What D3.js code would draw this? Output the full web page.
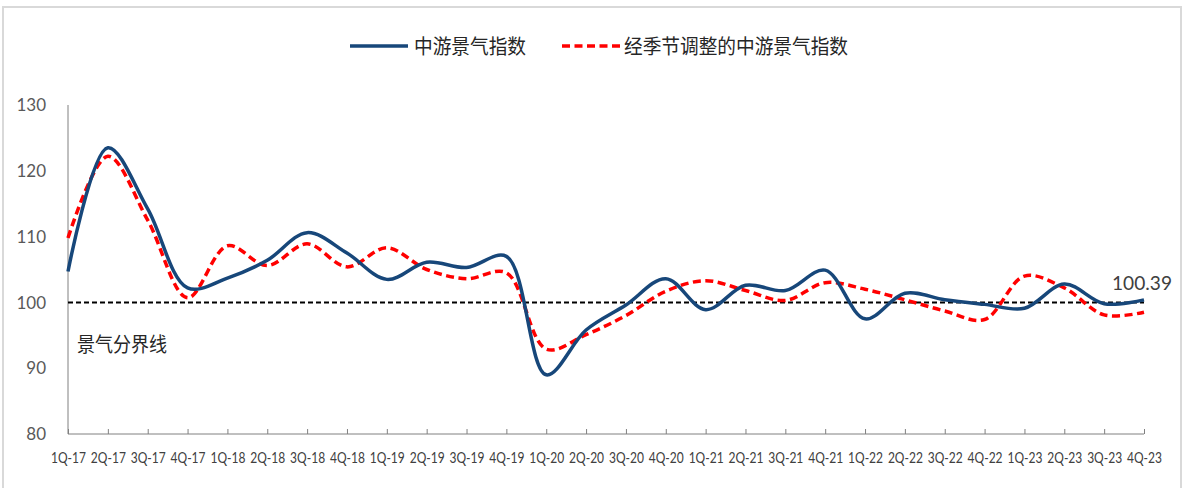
<!DOCTYPE html>
<html>
<head>
<meta charset="utf-8">
<script src="https://cdn.jsdelivr.net/npm/d3@7/dist/d3.min.js"></script>
<style>
  html, body { margin: 0; padding: 0; background: #fff; }
  svg { display: block; }
  .num { font-family: Lato, "Open Sans", sans-serif; }
  .cjk { font-family: "Noto Sans CJK SC", sans-serif; }
</style>
</head>
<body>
<svg id="chart" width="1184" height="488"></svg>
<script>
// Quarterly categories
const quarters = [
  "1Q-17","2Q-17","3Q-17","4Q-17",
  "1Q-18","2Q-18","3Q-18","4Q-18",
  "1Q-19","2Q-19","3Q-19","4Q-19",
  "1Q-20","2Q-20","3Q-20","4Q-20",
  "1Q-21","2Q-21","3Q-21","4Q-21",
  "1Q-22","2Q-22","3Q-22","4Q-22",
  "1Q-23","2Q-23","3Q-23","4Q-23"
];

// 中游景气指数
const midstreamIndex = [
  104.7, 123.5, 114.2, 102.2,
  103.7, 106.4, 110.6, 107.5,
  103.5, 106.1, 105.3, 107.0,
  89.0, 95.8, 99.6, 103.6,
  98.9, 102.6, 101.8, 104.9,
  97.5, 101.4, 100.4, 99.7,
  99.1, 102.8, 99.8, 100.39
];

// 经季节调整的中游景气指数
const adjustedIndex = [
  109.8, 122.2, 112.5, 100.7,
  108.6, 105.6, 108.9, 105.4,
  108.3, 105.0, 103.6, 104.5,
  92.9, 95.1, 98.0, 101.7,
  103.3, 101.8, 100.3, 103.0,
  102.0, 100.4, 98.7, 97.4,
  104.0, 102.2, 98.1, 98.5
];

const yTicks = [80, 90, 100, 110, 120, 130];
const boundaryValue = 100;
const seriesNames = ["中游景气指数", "经季节调整的中游景气指数"];
const boundaryLabel = "景气分界线";

const svg = d3.select("#chart");

// outer frame
svg.append("rect")
  .attr("x", 3).attr("y", 7)
  .attr("width", 1178).attr("height", 500)
  .attr("fill", "none")
  .attr("stroke", "#d9d9d9")
  .attr("stroke-width", 2);

const x = d3.scalePoint().domain(quarters).range([68, 1144]);
const y = d3.scaleLinear().domain([80, 130]).range([434, 105]);

// y axis line and labels
svg.append("line")
  .attr("x1", 68).attr("x2", 68)
  .attr("y1", y(130)).attr("y2", y(80))
  .attr("stroke", "#808080").attr("stroke-width", 1);

svg.append("g").selectAll("text")
  .data(yTicks)
  .join("text")
  .attr("class", "num")
  .attr("x", 46)
  .attr("y", d => y(d))
  .attr("dy", "0.36em")
  .attr("text-anchor", "end")
  .attr("font-size", 17)
  .attr("fill", "#595959")
  .text(d => d);

// x axis with upward ticks
const xAxis = d3.axisBottom(x).tickSize(-5).tickPadding(12);
const gx = svg.append("g")
  .attr("transform", `translate(0,${y(80)})`)
  .call(xAxis);
gx.select(".domain").attr("stroke", "#808080").attr("d", `M68,0H1144`);
gx.selectAll(".tick line").attr("stroke", "#808080");
gx.selectAll(".tick text")
  .attr("class", "num")
  .attr("font-size", 15)
  .attr("fill", "#404040")
  .attr("y", 18)
  .attr("dy", "0.71em")
  .attr("textLength", 35)
  .attr("lengthAdjust", "spacingAndGlyphs")
  .attr("x", -17.5)
  .attr("text-anchor", "start");

// boundary line at 100
svg.append("line")
  .attr("x1", x(quarters[0])).attr("x2", x(quarters[quarters.length - 1]))
  .attr("y1", y(boundaryValue)).attr("y2", y(boundaryValue))
  .attr("stroke", "#000")
  .attr("stroke-width", 2)
  .attr("stroke-dasharray", "5,3");

svg.append("text")
  .attr("class", "cjk")
  .attr("x", 77).attr("y", 352)
  .attr("font-size", 20)
  .attr("fill", "#262626")
  .attr("textLength", 90)
  .attr("lengthAdjust", "spacingAndGlyphs")
  .text(boundaryLabel);

const line = d3.line()
  .x((d, i) => x(quarters[i]))
  .y(d => y(d))
  .curve(d3.curveCatmullRom.alpha(0.5));

// seasonally adjusted series (red dashed)
svg.append("path")
  .datum(adjustedIndex)
  .attr("d", line)
  .attr("fill", "none")
  .attr("stroke", "#ff0000")
  .attr("stroke-width", 3.5)
  .attr("stroke-dasharray", "8,4.5");

// midstream index (navy solid)
svg.append("path")
  .datum(midstreamIndex)
  .attr("d", line)
  .attr("fill", "none")
  .attr("stroke", "#17477a")
  .attr("stroke-width", 3.5)
  .attr("stroke-linejoin", "round");

// value label on the last point
const lastVal = midstreamIndex[midstreamIndex.length - 1];
svg.append("text")
  .attr("class", "num")
  .attr("x", 1112)
  .attr("y", y(lastVal) - 10)
  .attr("font-size", 19)
  .attr("fill", "#404040")
  .attr("textLength", 60)
  .attr("lengthAdjust", "spacingAndGlyphs")
  .text(lastVal.toFixed(2));

// legend
const legend = svg.append("g");
legend.append("line")
  .attr("x1", 350).attr("x2", 408).attr("y1", 46).attr("y2", 46)
  .attr("stroke", "#17477a").attr("stroke-width", 3.5);
legend.append("text")
  .attr("class", "cjk")
  .attr("x", 414).attr("y", 54)
  .attr("font-size", 20)
  .attr("fill", "#262626")
  .attr("textLength", 112)
  .attr("lengthAdjust", "spacingAndGlyphs")
  .text(seriesNames[0]);
legend.append("line")
  .attr("x1", 562).attr("x2", 621).attr("y1", 46).attr("y2", 46)
  .attr("stroke", "#ff0000").attr("stroke-width", 3.5)
  .attr("stroke-dasharray", "8,4.5");
legend.append("text")
  .attr("class", "cjk")
  .attr("x", 624).attr("y", 54)
  .attr("font-size", 20)
  .attr("fill", "#262626")
  .attr("textLength", 224)
  .attr("lengthAdjust", "spacingAndGlyphs")
  .text(seriesNames[1]);
</script>
</body>
</html>
